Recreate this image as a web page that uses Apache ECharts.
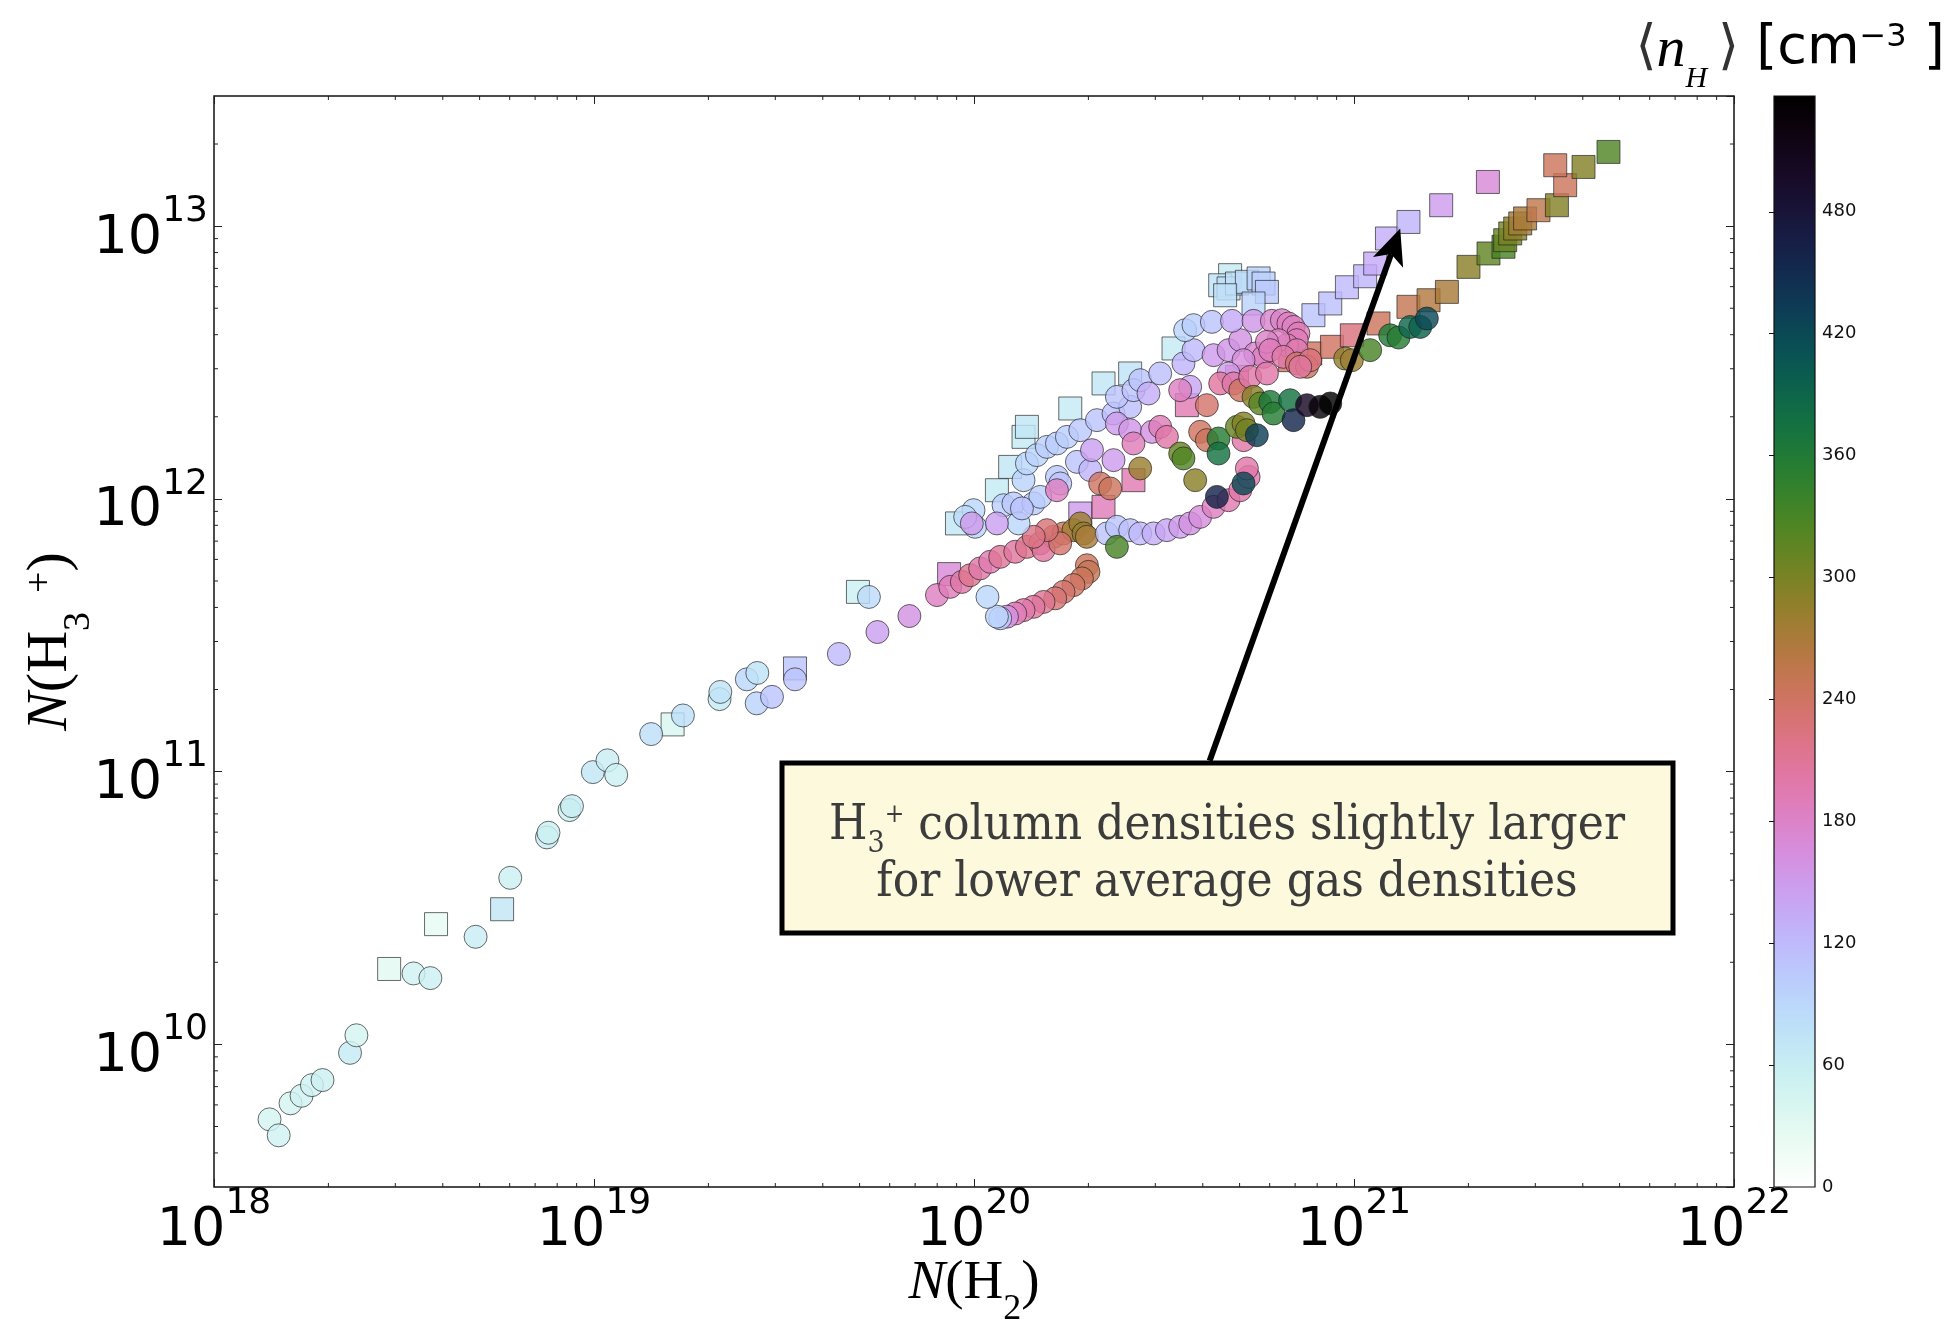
<!DOCTYPE html>
<html>
<head>
<meta charset="utf-8">
<style>
html,body{margin:0;padding:0;background:#fff;}
#chart{width:1949px;height:1323px;}
</style>
<script src="https://cdn.jsdelivr.net/npm/echarts@6/dist/echarts.min.js"></script>
</head>
<body>
<div id="chart"></div>
<script>
// ---------------- DATA ----------------
// Circles: N(H2) [cm^-2], N(H3+) [cm^-2], <n_H> [cm^-3]
const CIRCLE_NH2 = [
  1.40e18,1.48e18,1.59e18,1.70e18,1.81e18,1.93e18,2.28e18,2.37e18,3.35e18,3.71e18,
  4.88e18,6.02e18,7.52e18,7.59e18,8.62e18,8.75e18,9.93e18,1.085e19,1.144e19,1.414e19,
  1.714e19,2.14e19,2.15e19,2.525e19,2.69e19,2.68e19,2.94e19,3.38e19,4.41e19,5.57e19,
  6.76e19,5.29e19,
  7.99e19,8.66e19,9.29e19,9.77e19,1.038e20,1.103e20,1.172e20,1.284e20,1.378e20,1.494e20,
  1.619e20,1.72e20,1.827e20,1.904e20,1.942e20,1.982e20,1.524e20,1.686e20,1.555e20,1.436e20,
  1.982e20,2.001e20,1.923e20,1.827e20,1.72e20,1.636e20,1.524e20,1.434e20,1.35e20,1.284e20,1.221e20,1.172e20,1.149e20,1.085e20,
  2.237e20,2.377e20,2.576e20,2.737e20,2.968e20,3.218e20,3.488e20,3.706e20,3.937e20,4.27e20,4.676e20,5.02e20,5.28e20,5.225e20,
  5.12e20,4.357e20,2.377e20,
  9.97e19,1.007e20,1.196e20,1.27e20,1.31e20,1.35e20,1.378e20,1.464e20,1.555e20,1.434e20,1.494e20,1.337e20,9.48e19,
  9.87e19,1.149e20,
  1.653e20,1.756e20,1.904e20,2.106e20,2.329e20,2.576e20,2.377e20,2.628e20,2.737e20,3.09e20,
  2.879e20,3.558e20,3.781e20,4.27e20,4.676e20,5.02e20,5.50e20,5.78e20,5.12e20,1.653e20,
  1.866e20,2.023e20,2.329e20,2.044e20,2.377e20,2.576e20,1.686e20,3.706e20,2.94e20,4.676e20,
  3.595e20,3.781e20,4.227e20,4.774e20,5.44e20,6.08e20,6.46e20,6.72e20,6.93e20,7.14e20,7.07e20,6.66e20,6.33e20,5.90e20,6.02e20,7.07e20,
  2.628e20,3.09e20,3.218e20,3.488e20,4.10e20,4.445e20,4.82e20,5.02e20,5.33e20,6.52e20,
  7.07e20,7.52e20,5.90e20,2.148e20,2.282e20,5.12e20,3.937e20,4.10e20,1.653e20,
  2.737e20,3.82e20,3.488e20,4.40e20,4.40e20,4.92e20,5.12e20,5.225e20,5.55e20,5.44e20,
  5.665e20,6.02e20,6.14e20,6.79e20,6.93e20,7.52e20,8.15e20,8.66e20,3.558e20,
  7.67e20,7.22e20,9.48e20,9.87e20,1.103e21,1.245e21,1.31e21,1.406e21,1.494e21,1.555e21
];
const CIRCLE_NH3 = [
  5.31e9,4.64e9,6.08e9,6.48e9,7.09e9,7.40e9,9.31e9,1.08e10,1.82e10,1.75e10,
  2.48e10,4.08e10,5.74e10,5.97e10,7.23e10,7.47e10,9.96e10,1.10e11,9.73e10,1.373e11,
  1.607e11,1.845e11,1.96e11,2.18e11,2.30e11,1.78e11,1.88e11,2.18e11,2.70e11,3.25e11,
  3.72e11,4.37e11,
  4.44e11,4.76e11,4.96e11,5.25e11,5.56e11,5.88e11,6.13e11,6.40e11,6.67e11,6.87e11,
  7.26e11,7.47e11,7.68e11,8.13e11,7.47e11,7.26e11,6.49e11,6.87e11,7.68e11,7.26e11,
  5.71e11,5.40e11,5.11e11,4.83e11,4.56e11,4.32e11,4.19e11,4.02e11,3.91e11,3.80e11,3.70e11,3.65e11,3.70e11,4.37e11,
  7.47e11,7.90e11,7.68e11,7.47e11,7.47e11,7.68e11,7.90e11,8.13e11,8.59e11,9.35e11,9.89e11,1.076e12,1.204e12,1.293e12,
  1.139e12,1.017e12,6.67e11,
  9.09e11,7.90e11,9.48e11,9.62e11,8.13e11,1.171e12,1.349e12,1.447e12,1.551e12,9.62e11,1.017e12,9.23e11,8.59e11,
  8.13e11,8.13e11,
  1.597e12,1.688e12,1.786e12,1.944e12,2.056e12,2.175e12,2.366e12,2.504e12,2.724e12,2.883e12,
  2.435e12,3.136e12,3.51e12,3.365e12,3.51e12,3.82e12,3.414e12,3.317e12,3.225e12,1.204e12,
  1.367e12,1.275e12,1.387e12,1.509e12,1.89e12,1.786e12,1.139e12,2.575e12,1.761e12,2.883e12,
  4.155e12,4.335e12,4.457e12,4.495e12,4.495e12,4.495e12,4.52e12,4.397e12,4.27e12,4.04e12,3.82e12,3.66e12,3.82e12,3.766e12,3.51e12,3.51e12,
  1.597e12,1.837e12,1.688e12,2.504e12,2.206e12,2.65e12,2.65e12,2.504e12,2.80e12,3.317e12,
  3.136e12,3.05e12,2.883e12,1.139e12,1.092e12,1.642e12,1.761e12,1.642e12,1.076e12,
  1.293e12,1.171e12,1.467e12,1.665e12,1.467e12,1.837e12,1.89e12,1.786e12,1.712e12,2.366e12,
  2.238e12,2.268e12,2.056e12,2.30e12,1.944e12,2.206e12,2.175e12,2.238e12,1.407e12,
  3.225e12,3.05e12,3.27e12,3.225e12,3.51e12,3.98e12,3.906e12,4.27e12,4.27e12,4.585e12
];
const CIRCLE_DENS = [
  45,50,45,50,50,55,65,45,50,55,
  60,55,60,55,55,60,70,60,55,80,
  80,65,75,90,75,95,110,110,120,145,
  160,85,
  185,190,200,215,200,195,210,205,215,225,
  230,245,275,280,285,270,205,235,230,220,
  245,250,245,240,235,230,215,205,200,190,160,100,95,90,
  110,110,115,120,130,140,150,160,165,185,195,200,195,200,
  420,460,330,
  90,95,100,105,90,95,90,95,100,105,100,110,85,
  150,145,
  100,100,105,110,115,115,110,110,110,115,
  130,125,120,150,155,160,175,185,165,105,
  110,125,150,145,150,155,110,140,160,150,
  95,100,110,135,155,175,180,185,185,190,190,195,185,180,190,195,
  190,190,200,185,235,205,200,240,200,200,
  235,245,200,240,245,200,240,245,185,
  280,290,310,355,375,310,295,305,430,290,
  320,365,355,375,455,500,525,537,325,
  225,205,285,280,330,360,355,390,395,420
];
// Squares
const SQUARE_NH2 = [
  2.89e18,3.84e18,5.73e18,1.61e19,3.38e19,4.95e19,8.6e19,
  9.02e19,1.149e20,1.245e20,1.35e20,1.378e20,1.792e20,2.192e20,2.576e20,3.35e20,
  1.904e20,2.192e20,2.628e20,3.633e20,4.92e20,
  4.72e20,4.445e20,4.676e20,4.92e20,5.225e20,5.61e20,5.78e20,5.90e20,5.44e20,4.58e20,
  7.82e20,8.66e20,9.58e20,1.07e21,1.137e21,1.221e21,1.391e21,1.696e21,2.251e21,
  6.79e20,7.67e20,8.75e20,9.87e20,1.16e21,1.391e21,1.571e21,1.756e21,2.001e21,2.259e21,
  2.474e21,2.50e21,2.577e21,2.656e21,2.738e21,2.82e21,3.058e21,3.42e21,3.595e21,3.385e21,4.018e21,4.674e21
];
const SQUARE_NH3 = [
  1.89e10,2.76e10,3.13e10,1.49e11,2.39e11,4.56e11,5.3e11,
  8.13e11,1.076e12,1.31e12,1.688e12,1.837e12,2.145e12,2.65e12,2.883e12,3.56e12,
  8.84e11,9.35e11,1.171e12,2.206e12,2.80e12,
  6.61e12,6.07e12,5.91e12,6.16e12,6.25e12,6.43e12,6.16e12,5.74e12,5.205e12,5.58e12,
  4.715e12,5.205e12,5.97e12,6.55e12,7.29e12,9.01e12,1.036e13,1.193e13,1.452e13,
  3.225e12,3.414e12,3.61e12,3.98e12,4.397e12,5.06e12,5.35e12,5.74e12,7.09e12,7.94e12,
  8.40e12,8.88e12,9.40e12,9.80e12,1.023e13,1.067e13,1.144e13,1.193e13,1.413e13,1.672e13,1.648e13,1.871e13
];
const SQUARE_DENS = [
  30,25,70,40,110,55,170,
  70,65,70,65,70,65,70,75,65,
  150,190,195,195,200,
  65,75,80,80,85,95,100,105,95,80,
  110,115,120,125,135,130,125,150,170,
  235,240,240,225,245,250,265,270,290,315,
  330,310,300,290,275,270,255,295,245,245,295,325
];
// Axis ranges and colorbar
const X_RANGE = [1e18, 1e22];
const Y_RANGE = [3e9, 3e13];
const DENS_MAX = 537;
const CBAR_TICK_STEP = 60;
// Annotation arrow: [tail N(H2), tail N(H3+), tip N(H2), tip N(H3+)]
const ARROW = [[4.17e20, 1.096e11, 1.323e21, 9.80e12]];
const NOTE_LINES = ['column densities slightly larger', 'for lower average gas densities'];

// ---------------- colormap (matplotlib cubehelix, reversed) ----------------
function cubehelixR(v) {
  const t = 1 - Math.min(1, Math.max(0, v / DENS_MAX));
  const a = t * (1 - t) / 2;
  const phi = 2 * Math.PI * (0.5 / 3 - 1.5 * t);
  const c = Math.cos(phi), s = Math.sin(phi);
  let R = t + a * (-0.14861 * c + 1.78277 * s);
  let G = t + a * (-0.29227 * c - 0.90649 * s);
  let B = t + a * (1.97294 * c);
  const m = (R + G + B) / 3, K = 1.3;
  R = m + K * (R - m); G = m + K * (G - m); B = m + K * (B - m);
  const h = x => Math.round(Math.min(1, Math.max(0, x)) * 255).toString(16).padStart(2, '0');
  return '#' + h(R) + h(G) + h(B);
}
const NSTOP = 48;
const CMAP = [];
for (let i = 0; i < NSTOP; i++) CMAP.push(cubehelixR(DENS_MAX * i / (NSTOP - 1)));
const CBAR_STOPS = [];
for (let i = 0; i < NSTOP; i++) {
  const o = i / (NSTOP - 1);
  CBAR_STOPS.push({ offset: o, color: cubehelixR(DENS_MAX * (1 - o)) });
}

// minor tick positions (2..9 x 10^n) for log axes
const X_MINOR = [], Y_MINOR = [];
for (let e = 18; e < 22; e++) for (let k = 2; k <= 9; k++) X_MINOR.push(k * Math.pow(10, e));
for (let e = 9; e < 14; e++) for (let k = 2; k <= 9; k++) {
  const v = k * Math.pow(10, e);
  if (v > Y_RANGE[0] && v < Y_RANGE[1]) Y_MINOR.push(v);
}

const circles = CIRCLE_NH2.map((x, i) => [x, CIRCLE_NH3[i], CIRCLE_DENS[i]]);
const squares = SQUARE_NH2.map((x, i) => [x, SQUARE_NH3[i], SQUARE_DENS[i]]);

function powLabel(value) {
  const l = Math.log10(value), e = Math.round(l);
  if (Math.abs(l - e) > 1e-6) return '';
  return '{b|10}{s|' + e + '}';
}
const TICK_RICH = {
  b: { fontFamily: 'DejaVu Sans', fontSize: 54, lineHeight: 72, verticalAlign: 'bottom', color: '#000' },
  s: { fontFamily: 'DejaVu Sans', fontSize: 36, lineHeight: 40, verticalAlign: 'top', color: '#000' }
};
function nameRich(fs) {
  return {
    it: { fontFamily: 'Liberation Serif', fontStyle: 'italic', fontSize: fs, lineHeight: Math.round(fs * 1.31), verticalAlign: 'top', color: '#000' },
    r: { fontFamily: 'Liberation Serif', fontSize: fs, lineHeight: Math.round(fs * 1.31), verticalAlign: 'top', color: '#000' },
    sub: { fontFamily: 'Liberation Serif', fontSize: Math.round(fs * 0.66), lineHeight: 26, verticalAlign: 'bottom', color: '#000' },
    sup: { fontFamily: 'Liberation Serif', fontSize: Math.round(fs * 0.66), lineHeight: 30, verticalAlign: 'top', color: '#000' }
  };
}
const TICK_COLOR = '#222';

const chart = echarts.init(document.getElementById('chart'), null, { renderer: 'canvas' });

function minorTickRender(isX) {
  return function (params, api) {
    const cs = params.coordSys;
    const p = api.coord([api.value(0), api.value(1)]);
    const st = { stroke: TICK_COLOR, lineWidth: 1 };
    if (isX) {
      const yb = cs.y + cs.height, yt = cs.y;
      return { type: 'group', children: [
        { type: 'line', shape: { x1: p[0], y1: yb, x2: p[0], y2: yb - 4 }, style: st },
        { type: 'line', shape: { x1: p[0], y1: yt, x2: p[0], y2: yt + 4 }, style: st }
      ]};
    }
    const xl = cs.x, xr = cs.x + cs.width;
    return { type: 'group', children: [
      { type: 'line', shape: { x1: xl, y1: p[1], x2: xl + 4, y2: p[1] }, style: st },
      { type: 'line', shape: { x1: xr, y1: p[1], x2: xr - 4, y2: p[1] }, style: st }
    ]};
  };
}

const option = {
  animation: false,
  backgroundColor: '#fff',
  textStyle: { fontFamily: 'DejaVu Sans' },
  grid: [
    { left: 214, top: 96, width: 1520, height: 1091, show: true, borderColor: '#111', borderWidth: 1.5,
      backgroundColor: 'transparent', containLabel: false, outerBoundsMode: 'none' },
    { left: 1774, top: 96, width: 41, height: 1091, show: false, containLabel: false, outerBoundsMode: 'none' }
  ],
  xAxis: [
    { type: 'log', logBase: 10, gridIndex: 0, min: X_RANGE[0], max: X_RANGE[1], position: 'bottom',
      axisLine: { show: false }, splitLine: { show: false },
      axisTick: { inside: true, length: 8, lineStyle: { color: TICK_COLOR, width: 1 } },
      axisLabel: { margin: 35, verticalAlign: 'middle', formatter: powLabel, rich: TICK_RICH },
      name: '{it|N}{r|(H}{sub|2}{r|)}', nameLocation: 'middle', nameGap: 69, nameMoveOverlap: false,
      nameTextStyle: { rich: nameRich(55) } },
    { type: 'log', logBase: 10, gridIndex: 0, min: X_RANGE[0], max: X_RANGE[1], position: 'top',
      axisLine: { show: false }, splitLine: { show: false }, axisLabel: { show: false },
      axisTick: { inside: true, length: 8, lineStyle: { color: TICK_COLOR, width: 1 } } },
    { type: 'value', gridIndex: 1, min: 0, max: 1, show: false }
  ],
  yAxis: [
    { type: 'log', logBase: 10, gridIndex: 0, min: Y_RANGE[0], max: Y_RANGE[1], position: 'left',
      axisLine: { show: false }, splitLine: { show: false },
      axisTick: { inside: true, length: 8, lineStyle: { color: TICK_COLOR, width: 1 } },
      axisLabel: { margin: 6, formatter: powLabel, rich: TICK_RICH, padding: [7, 0, 0, 0], showMinLabel: false, showMaxLabel: false },
      name: '{it|N}{r|(H}{sub|3}{sup|\u2002+}{r|)}', nameLocation: 'middle', nameGap: 116, nameMoveOverlap: false,
      nameTextStyle: { rich: nameRich(58) } },
    { type: 'log', logBase: 10, gridIndex: 0, min: Y_RANGE[0], max: Y_RANGE[1], position: 'right',
      axisLine: { show: false }, splitLine: { show: false }, axisLabel: { show: false },
      axisTick: { inside: true, length: 8, lineStyle: { color: TICK_COLOR, width: 1 } } },
    { type: 'value', gridIndex: 1, min: 0, max: DENS_MAX, interval: CBAR_TICK_STEP, position: 'right',
      axisLine: { show: false }, splitLine: { show: false },
      axisTick: { inside: true, length: 5, lineStyle: { color: '#111', width: 1 } },
      axisLabel: { margin: 7, fontSize: 18, fontFamily: 'DejaVu Sans', color: '#111', showMaxLabel: false } }
  ],
  visualMap: {
    type: 'continuous', show: false, min: 0, max: DENS_MAX, dimension: 2, seriesIndex: [0, 1],
    inRange: { color: CMAP }
  },
  series: [
    { name: 'squares', type: 'scatter', xAxisIndex: 0, yAxisIndex: 0, symbol: 'rect', symbolSize: 23,
      data: squares, z: 2,
      itemStyle: { opacity: 0.82, borderColor: 'rgba(30,30,30,0.8)', borderWidth: 1 } },
    { name: 'circles', type: 'scatter', xAxisIndex: 0, yAxisIndex: 0, symbol: 'circle', symbolSize: 23,
      data: circles, z: 3,
      itemStyle: { opacity: 0.82, borderColor: 'rgba(30,30,30,0.8)', borderWidth: 1 } },
    { type: 'custom', xAxisIndex: 0, yAxisIndex: 0, silent: true, z: 5,
      data: X_MINOR.map(v => [v, Y_RANGE[0]]), encode: { x: 0, y: 1 }, renderItem: minorTickRender(true) },
    { type: 'custom', xAxisIndex: 0, yAxisIndex: 0, silent: true, z: 5,
      data: Y_MINOR.map(v => [X_RANGE[0], v]), encode: { x: 0, y: 1 }, renderItem: minorTickRender(false) },
    { type: 'custom', xAxisIndex: 2, yAxisIndex: 2, silent: true, z: 2,
      data: [[0, 0, 1, DENS_MAX]], encode: { x: [0, 2], y: [1, 3] },
      renderItem: function (params, api) {
        const p0 = api.coord([api.value(0), api.value(3)]);
        const p1 = api.coord([api.value(2), api.value(1)]);
        return { type: 'rect', shape: { x: p0[0], y: p0[1], width: p1[0] - p0[0], height: p1[1] - p0[1] },
          style: { fill: new echarts.graphic.LinearGradient(0, 0, 0, 1, CBAR_STOPS), stroke: '#111', lineWidth: 1.2 } };
      } },
    { type: 'custom', xAxisIndex: 0, yAxisIndex: 0, silent: true, z: 20, clip: false,
      data: ARROW, encode: { x: [0, 2], y: [1, 3] },
      renderItem: function (params, api) {
        const a = api.coord([api.value(0), api.value(1)]);
        const b = api.coord([api.value(2), api.value(3)]);
        const dx = b[0] - a[0], dy = b[1] - a[1], len = Math.hypot(dx, dy);
        const ux = dx / len, uy = dy / len, nx = -uy, ny = ux;
        const L = 36, W = 32, notch = 9;
        const bx = b[0] - ux * L, by = b[1] - uy * L;
        const cx = b[0] - ux * (L - notch), cy = b[1] - uy * (L - notch);
        return { type: 'group', children: [
          { type: 'line', shape: { x1: a[0], y1: a[1], x2: cx, y2: cy }, style: { stroke: '#000', lineWidth: 6 } },
          { type: 'polygon', shape: { points: [[b[0], b[1]], [bx + nx * W / 2, by + ny * W / 2], [cx, cy], [bx - nx * W / 2, by - ny * W / 2]] },
            style: { fill: '#000' } }
        ]};
      } }
  ],
  graphic: [
    { type: 'rect', z: 30, shape: { x: 782, y: 763, width: 891, height: 170 },
      style: { fill: '#fcf9dc', stroke: '#000', lineWidth: 5 } },
    { type: 'text', z: 31, x: 1227, y: 859,
      style: {
        text: '{t|H}{sub|3}{sup|+}{t| ' + NOTE_LINES[0] + '}\n{t|' + NOTE_LINES[1] + '}',
        align: 'center', verticalAlign: 'middle',
        rich: {
          t: { fontFamily: 'DejaVu Serif Condensed, DejaVu Serif', fontSize: 49, lineHeight: 57, verticalAlign: 'top', fill: '#3c3c3c' },
          sub: { fontFamily: 'DejaVu Serif Condensed, DejaVu Serif', fontSize: 30, lineHeight: 30, verticalAlign: 'bottom', fill: '#3c3c3c' },
          sup: { fontFamily: 'DejaVu Serif Condensed, DejaVu Serif', fontSize: 26, lineHeight: 28, verticalAlign: 'top', fill: '#3c3c3c' }
        }
      } },
    { type: 'text', z: 31, x: 1946, y: 22,
      style: {
        text: '{ang|\u27E8}{n|n}{sub|H}{ang|\u2009\u27E9 }{cm|[cm}{sup|\u22123}{cm| ]}{sp| }',
        align: 'right', verticalAlign: 'top',
        rich: {
          ang: { fontFamily: 'DejaVu Serif', fontSize: 54, lineHeight: 60, verticalAlign: 'top', fill: '#333' },
          n: { fontFamily: 'Liberation Serif', fontStyle: 'italic', fontSize: 58, lineHeight: 60, verticalAlign: 'top', fill: '#000' },
          sub: { fontFamily: 'Liberation Serif', fontStyle: 'italic', fontSize: 30, lineHeight: 32, verticalAlign: 'bottom', fill: '#000' },
          cm: { fontFamily: 'DejaVu Sans', fontSize: 54, lineHeight: 60, verticalAlign: 'top', fill: '#000' },
          sup: { fontFamily: 'DejaVu Sans', fontSize: 32, lineHeight: 35, verticalAlign: 'top', fill: '#000' },
          sp: { fontSize: 4, lineHeight: 72, verticalAlign: 'top' }
        }
      } }
  ]
};
chart.setOption(option);
</script>
</body>
</html>
